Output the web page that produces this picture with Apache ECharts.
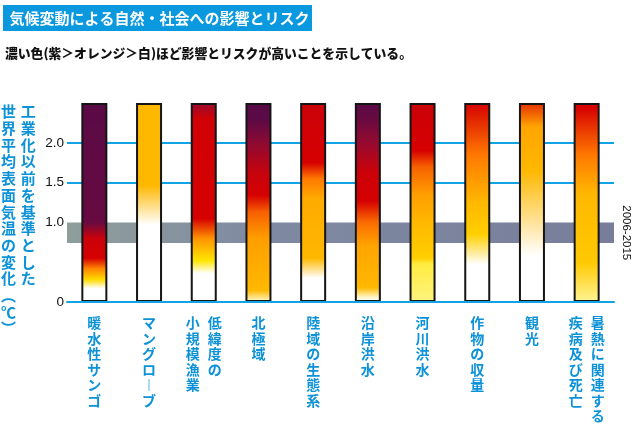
<!DOCTYPE html>
<html><head><meta charset="utf-8">
<script src="https://cdn.jsdelivr.net/npm/echarts@6/dist/echarts.min.js"></script>
<style>html,body{margin:0;padding:0;background:#fff}#c{width:640px;height:430px}</style>
</head><body><div id="c"></div>
<script>
// ---- data ----
const categories = ['暖水性サンゴ','マングローブ','低緯度の小規模漁業','北極域','陸域の生態系','沿岸洪水','河川洪水','作物の収量','観光','暑熱に関連する疾病及び死亡'];
// vertical label columns (right column first, as read in vertical Japanese)
const labelColumns = [['暖水性サンゴ'],['マングローブ'],['低緯度の','小規模漁業'],['北極域'],['陸域の生態系'],['沿岸洪水'],['河川洪水'],['作物の収量'],['観光'],['暑熱に関連する','疾病及び死亡']];
const barTops = [2.5, 2.5, 2.5, 2.5, 2.5, 2.5, 2.5, 2.5, 2.5, 2.5];
const yTickLabels = ['0','1.0','1.5','2.0'];
const band2006_2015 = [0.74, 1.0];
const bandLabel = '2006-2015';
// risk level at temperature: [°C, level] (0 = white, 1 = yellow/orange, 2 = red, 3 = purple)
const emberCoral     = [[0,0],[0.17,0],[0.28,0.7],[0.42,1.4],[0.55,2],[0.8,2.1],[1.0,2.9],[2.5,3]];
const emberMangrove  = [[0,0],[0.97,0],[1.47,1],[2.5,1]];
const emberFisheries = [[0,0],[0.36,0],[0.52,0.6],[0.8,1.3],[1.05,2],[2.3,2.05],[2.5,2.5]];
const emberArctic    = [[0,0.1],[0.15,1],[0.8,1.2],[1.13,1.6],[1.34,2],[1.64,2.15],[2.0,2.6],[2.3,3],[2.5,3]];
const emberTerrestrial = [[0,0],[0.3,0],[0.55,1],[1.3,1.1],[1.55,1.5],[1.75,2],[2.5,2.1]];
const emberCoastal   = [[0,0],[0.05,0.1],[0.18,1],[0.7,1.15],[1.0,1.55],[1.27,2],[1.64,2.1],[1.97,2.5],[2.3,2.9],[2.5,3]];
const emberFluvial   = [[0,0.3],[0.48,0.45],[0.55,0.8],[1.0,1],[1.35,1.2],[1.7,1.6],[1.9,2],[2.5,2.1]];
const emberCrops     = [[0,0],[0.47,0],[0.85,0.8],[1.25,1],[1.85,1.5],[2.5,2]];
const emberTourism   = [[0,0],[0.58,0],[1.65,1],[2.2,1.15],[2.5,1.8]];
const emberHeat      = [[0,0.25],[0.5,0.85],[1.35,1],[1.85,1.5],[2.45,2],[2.5,2]];
const emberStops = [emberCoral, emberMangrove, emberFisheries, emberArctic, emberTerrestrial, emberCoastal, emberFluvial, emberCrops, emberTourism, emberHeat];

// ---- style ----
const levelAnchors = [0, 0.6, 1, 1.5, 2, 2.5, 3];
const levelColors = ['#ffffff','#ffe600','#ffb800','#ff7800','#d60000','#9a0a2e','#5a0a46'];
const BLUE = '#0d92d8';
const LINE_BLUE = '#12a3e4';
const JP = '"Noto Sans CJK JP", "Noto Sans", sans-serif';

function hex2rgb(h){return [parseInt(h.slice(1,3),16),parseInt(h.slice(3,5),16),parseInt(h.slice(5,7),16)];}
function levelColor(l){
  if (l <= levelAnchors[0]) return levelColors[0];
  for (let i = 1; i < levelAnchors.length; i++) {
    if (l <= levelAnchors[i]) {
      const t = (l - levelAnchors[i-1]) / (levelAnchors[i] - levelAnchors[i-1]);
      const a = hex2rgb(levelColors[i-1]), b = hex2rgb(levelColors[i]);
      return 'rgb(' + a.map((v,k)=>Math.round(v + (b[k]-v)*t)).join(',') + ')';
    }
  }
  return levelColors[levelColors.length-1];
}

const barData = barTops.map((top, i) => ({
  value: top,
  itemStyle: {
    color: new echarts.graphic.LinearGradient(0, 1, 0, 0,
      emberStops[i].map(s => ({ offset: Math.min(1, s[0] / top), color: levelColor(s[1]) })))
  }
}));

function verticalChar(ch){ return ch === 'ー' ? '︱' : ch; }

const chart = echarts.init(document.getElementById('c'));
chart.setOption({
  backgroundColor: '#ffffff',
  animation: false,
  grid: { left: 67, right: 26, top: 103, bottom: 128, containLabel: false, outerBoundsMode: 'none' },
  xAxis: {
    type: 'category',
    data: categories,
    z: 5,
    axisLine: { show: true, lineStyle: { color: LINE_BLUE, width: 2 } },
    axisTick: { show: false },
    splitLine: { show: false },
    axisLabel: {
      interval: 0,
      margin: 13,
      formatter: (val, idx) => {
        const cols = labelColumns[idx];
        const right = Array.from(cols[0]).map(verticalChar);
        const left = cols.length > 1 ? Array.from(cols[1]).map(verticalChar) : null;
        const n = Math.max(right.length, left ? left.length : 0);
        const rows = [];
        for (let i = 0; i < n; i++) {
          if (left) rows.push('{c|' + (left[i] || '　') + '}{c|' + (right[i] || '　') + '}');
          else rows.push('{c|' + right[i] + '}');
        }
        return rows.join('\n');
      },
      rich: {
        c: { fontSize: 14, fontWeight: 'bold', color: BLUE, fontFamily: JP, width: 22, align: 'center', lineHeight: 15.5 }
      }
    }
  },
  yAxis: {
    type: 'value',
    min: 0, max: 2.5, interval: 0.5,
    axisLine: { show: false },
    axisTick: { show: false },
    axisLabel: {
      margin: 3,
      color: '#111',
      fontSize: 13.5,
      fontFamily: '"Liberation Sans", Arial, sans-serif',
      formatter: v => { const s = v === 0 ? '0' : v.toFixed(1); return yTickLabels.indexOf(s) >= 0 ? s : ''; }
    },
    splitLine: { show: true, lineStyle: { width: 2, color: ['rgba(0,0,0,0)','rgba(0,0,0,0)','rgba(0,0,0,0)', LINE_BLUE, LINE_BLUE, 'rgba(0,0,0,0)'] } }
  },
  series: [{
    type: 'bar',
    data: barData,
    barWidth: 26,
    z: 2,
    itemStyle: { borderColor: '#151515', borderWidth: 2 },
    markArea: {
      silent: true,
      z: 1,
      itemStyle: {
        color: new echarts.graphic.LinearGradient(0, 0, 1, 0, [
          { offset: 0, color: '#8f9f9b' }, { offset: 0.35, color: '#7f8aa2' }, { offset: 1, color: '#787e9a' }
        ])
      },
      label: { show: false },
      data: [[{ yAxis: band2006_2015[0] }, { yAxis: band2006_2015[1] }]]
    }
  }]
});

const bandMid = chart.convertToPixel({ yAxisIndex: 0 }, (band2006_2015[0] + band2006_2015[1]) / 2);
const gridRight = chart.convertToPixel({ xAxisIndex: 0 }, categories[categories.length - 1]) + 27.35;

chart.setOption({
  graphic: [
    { type: 'rect', left: 3, top: 5, shape: { width: 309, height: 26 }, style: { fill: '#0a98de' } },
    { type: 'text', x: 9.5, y: 18, style: { text: '気候変動による自然・社会への影響とリスク', fill: '#ffffff', font: 'bold 15px ' + JP, verticalAlign: 'middle' } },
    { type: 'text', x: 5, y: 53, style: { text: '濃い色(紫＞オレンジ＞白)ほど影響とリスクが高いことを示している。', fill: '#111111', font: '900 12.8px ' + JP, verticalAlign: 'middle' } },
    { type: 'text', x: 28.3, y: 103.3, style: { text: Array.from('工業化以前を基準とした').join('\n'), fill: BLUE, font: 'bold 15px ' + JP, align: 'center', verticalAlign: 'top', lineHeight: 16.7 } },
    { type: 'text', x: 8.5, y: 103.3, style: { text: Array.from('世界平均表面気温の変化︵℃︶').join('\n'), fill: BLUE, font: 'bold 15px ' + JP, align: 'center', verticalAlign: 'top', lineHeight: 16.7 } },
    { type: 'text', x: gridRight + 12.5, y: bandMid, rotation: -Math.PI / 2, style: { text: bandLabel, fill: '#111', font: '11.5px "Liberation Sans", Arial, sans-serif', align: 'center', verticalAlign: 'middle' } }
  ]
});
</script>
</body></html>
